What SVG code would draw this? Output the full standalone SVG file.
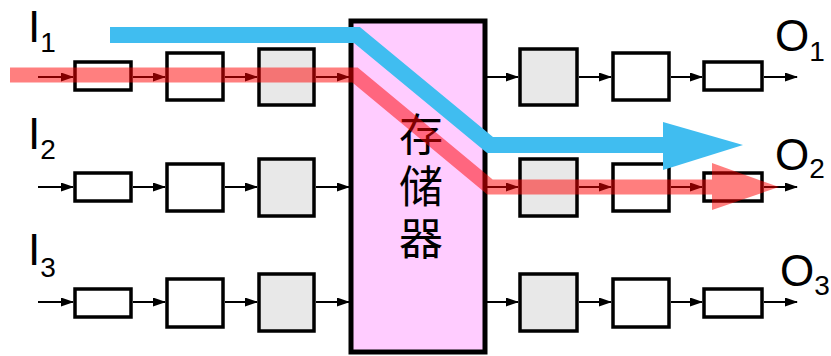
<svg xmlns="http://www.w3.org/2000/svg" width="831" height="356" viewBox="0 0 831 356">
<style>
.box{fill:#fff;stroke:#000;stroke-width:3.5}
.gray{fill:#E8E8E8;stroke:#000;stroke-width:3.5}
.conn{stroke:#000;stroke-width:2;fill:none;marker-end:url(#ah)}
.lbl{font-family:"Liberation Sans","Open Sans",sans-serif;font-size:44px;fill:#000}
.sub{font-size:28px}
.cjk{font-family:"Noto Sans CJK SC",sans-serif;font-size:44px;fill:#000;writing-mode:vertical-rl;letter-spacing:8px}
</style>
<defs>
<marker id="ah" markerUnits="userSpaceOnUse" markerWidth="13" markerHeight="10" refX="12" refY="4.5" orient="auto">
<path d="M0,0 L13,4.5 L0,9 z" fill="#000"/>
</marker>
</defs>

<g id="memory">
<rect x="351" y="21" width="134" height="331" fill="#FFCCFF" stroke="#000" stroke-width="5"/>
<text class="cjk" x="421" y="112">存储器</text>
</g>

<g id="in1">
<rect id="in1a" class="box" x="75" y="62" width="56" height="28"/>
<rect id="in1b" class="box" x="167" y="53" width="56" height="47"/>
<rect id="in1c" class="gray" x="259" y="49" width="55" height="56"/>
</g>
<g id="in2">
<rect id="in2a" class="box" x="75" y="173" width="56" height="28"/>
<rect id="in2b" class="box" x="167" y="164" width="56" height="47"/>
<rect id="in2c" class="gray" x="259" y="159" width="55" height="57"/>
</g>
<g id="in3">
<rect id="in3a" class="box" x="75" y="289" width="56" height="28"/>
<rect id="in3b" class="box" x="167" y="279" width="56" height="48"/>
<rect id="in3c" class="gray" x="259" y="274" width="55" height="57"/>
</g>
<g id="out1">
<rect id="out1a" class="gray" x="520" y="49" width="57" height="56"/>
<rect id="out1b" class="box" x="613" y="53" width="56" height="47"/>
<rect id="out1c" class="box" x="704" y="62" width="58" height="28"/>
</g>
<g id="out2">
<rect id="out2a" class="gray" x="520" y="159" width="57" height="57"/>
<rect id="out2b" class="box" x="613" y="164" width="56" height="47"/>
<rect id="out2c" class="box" x="704" y="173" width="58" height="28"/>
</g>
<g id="out3">
<rect id="out3a" class="gray" x="520" y="274" width="57" height="57"/>
<rect id="out3b" class="box" x="613" y="279" width="56" height="48"/>
<rect id="out3c" class="box" x="704" y="289" width="58" height="28"/>
</g>

<g id="connectors">
<line class="conn" x1="38" y1="77" x2="73" y2="77"/>
<line class="conn" x1="133" y1="77" x2="165" y2="77"/>
<line class="conn" x1="225" y1="77" x2="257" y2="77"/>
<line class="conn" x1="316" y1="77" x2="349" y2="77"/>
<line class="conn" x1="38" y1="187" x2="73" y2="187"/>
<line class="conn" x1="133" y1="187" x2="165" y2="187"/>
<line class="conn" x1="225" y1="187" x2="257" y2="187"/>
<line class="conn" x1="316" y1="187" x2="349" y2="187"/>
<line class="conn" x1="38" y1="302" x2="73" y2="302"/>
<line class="conn" x1="133" y1="302" x2="165" y2="302"/>
<line class="conn" x1="225" y1="302" x2="257" y2="302"/>
<line class="conn" x1="316" y1="302" x2="349" y2="302"/>
<line class="conn" x1="487" y1="77" x2="518" y2="77"/>
<line class="conn" x1="579" y1="77" x2="611" y2="77"/>
<line class="conn" x1="671" y1="77" x2="702" y2="77"/>
<line class="conn" x1="764" y1="77" x2="797" y2="77"/>
<line class="conn" x1="487" y1="187" x2="518" y2="187"/>
<line class="conn" x1="579" y1="187" x2="611" y2="187"/>
<line class="conn" x1="671" y1="187" x2="702" y2="187"/>
<line class="conn" x1="764" y1="187" x2="797" y2="187"/>
<line class="conn" x1="487" y1="302" x2="518" y2="302"/>
<line class="conn" x1="579" y1="302" x2="611" y2="302"/>
<line class="conn" x1="671" y1="302" x2="702" y2="302"/>
<line class="conn" x1="764" y1="302" x2="797" y2="302"/>
</g>

<g id="labels">
<text class="lbl" x="28" y="42">I<tspan class="sub" dy="10">1</tspan></text>
<text class="lbl" x="28" y="149">I<tspan class="sub" dy="10">2</tspan></text>
<text class="lbl" x="28" y="265">I<tspan class="sub" dy="12">3</tspan></text>
<text class="lbl" x="775" y="51">O<tspan class="sub" dy="10">1</tspan></text>
<text class="lbl" x="775" y="170">O<tspan class="sub" dy="8">2</tspan></text>
<text class="lbl" x="780" y="286">O<tspan class="sub" dy="9">3</tspan></text>
</g>

<g id="flow-blue">
<path d="M110,35 L357,35 L490,145 L666,145" fill="none" stroke="#40BDF0" stroke-width="16"/>
<polygon points="663,122 743,145 663,170" fill="#40BDF0"/>
</g>
<g id="flow-red" opacity="0.5">
<path d="M10,75 L355,75 L490,187 L714,187" fill="none" stroke="#FF0000" stroke-width="15"/>
<polygon points="712,163 779,187 712,210" fill="#FF0000"/>
</g>
</svg>
